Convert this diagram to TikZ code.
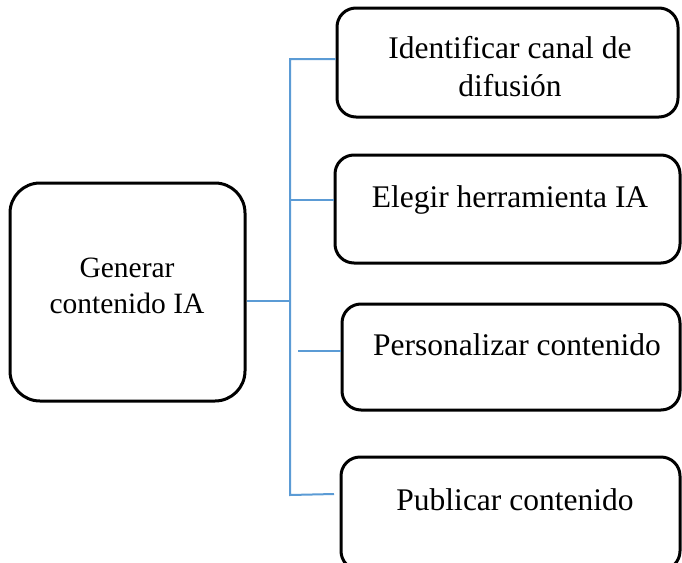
\documentclass[tikz,border=0pt]{standalone}
\usepackage{fontspec}
\setmainfont{Liberation Serif}
\begin{document}
\begin{tikzpicture}[x=1pt,y=-1pt,
  box/.style={draw=black, line width=3pt, rounded corners=19pt, inner sep=0pt},
  bigbox/.style={box, rounded corners=30pt},
  rtext/.style={font=\fontsize{31.5}{38}\selectfont, anchor=base, align=center, inner sep=0pt},
  ltext/.style={font=\fontsize{29.5}{37}\selectfont, anchor=base, align=center, inner sep=0pt},
  conn/.style={draw={rgb,255:red,91;green,155;blue,213}, line width=2pt}]
\useasboundingbox (0,0) rectangle (682,562);
% boxes
\node[bigbox, minimum width=235pt, minimum height=218pt] (g) at (127.5,292) {};
\node[box, minimum width=341pt, minimum height=109pt] (b1) at (507.5,62.5) {};
\node[box, minimum width=345pt, minimum height=108pt] (b2) at (507.5,209) {};
\node[box, minimum width=338pt, minimum height=106pt] (b3) at (511,357) {};
\node[box, minimum width=339pt, minimum height=113pt] (b4) at (510.5,513.5) {};
% texts
\node[ltext] (tg1) at (127,277) {Generar};
\node[ltext] (tg2) at (127,313) {contenido IA};
\node[rtext] (t1a) at (510,58) {Identificar canal de};
\node[rtext] (t1b) at (510,96) {difusión};
\node[rtext] (t2) at (510,207) {Elegir herramienta IA};
\node[rtext] (t3) at (517,355) {Personalizar contenido};
\node[rtext] (t4) at (515,510) {Publicar contenido};
% connectors
\coordinate (top) at (290,59);
\coordinate (bot) at (290,495);
\coordinate (mid) at (290,301);
\coordinate (c2) at (290,200);
\coordinate (c3) at (298,350.5);
\coordinate (e4) at (334,494);
\draw[conn] (g.east |- mid) -- (mid);
\draw[conn] (b1.west |- top) -- (top) -- (bot) -- (e4);
\draw[conn] (c2) -- (b2.west |- c2);
\draw[conn] (c3) -- (b3.west |- c3);
\end{tikzpicture}
\end{document}
